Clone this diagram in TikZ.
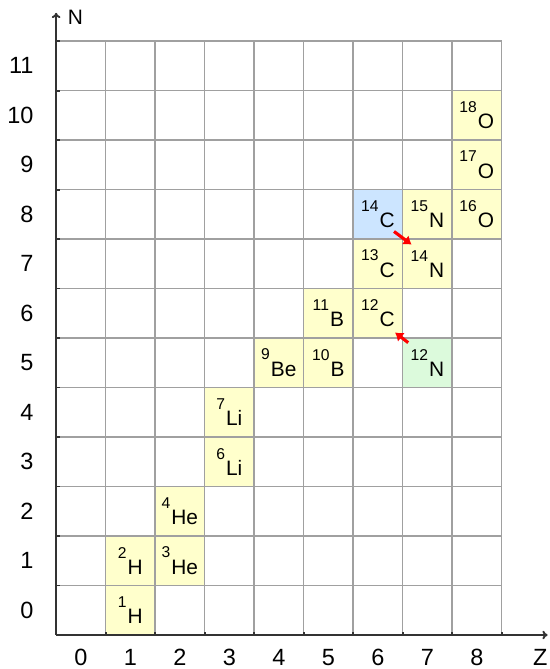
\documentclass[tikz,border=0pt]{standalone}
\usepackage{fontspec}
\setmainfont{Liberation Sans}
\usetikzlibrary{arrows.meta}
\definecolor{cellyellow}{HTML}{FFFFCC}
\definecolor{cellblue}{HTML}{CCE5FF}
\definecolor{cellgreen}{HTML}{DCFADC}
\definecolor{gridgray}{HTML}{A0A0A0}
\definecolor{axisgray}{HTML}{333333}
\newcommand{\nuc}[2]{\raisebox{9.4pt}{\fontsize{9}{9}\selectfont #1}\kern0.6pt#2}

\begin{document}
\begin{tikzpicture}[>={To[length=3pt,width=5pt]},
    cell/.style={minimum size=1cm,inner sep=0pt,font=\fontsize{12}{12}\selectfont},
    stable/.style={cell,fill=cellyellow},
    gridline/.style={draw=gridgray,line width=0.9pt},
    axis/.style={draw=axisgray,line width=1.1pt},
    ticklabel/.style={font=\fontsize{13.5}{13.5}\selectfont,inner sep=0pt},
    decay/.style={draw=red,line width=1.8pt,-{Latex[length=4.5pt,width=6.5pt]}}]
    \fill[white] (-1.134,-0.687) rectangle (9.96,12.83);
    \useasboundingbox (-1.134,-0.687) rectangle (9.96,12.83);
    % isotope cells
    \node[stable] (H1) at (1.5,0.5) {\nuc{1}{H}};
    \node[stable] (H2) at (1.5,1.5) {\nuc{2}{H}};
    \node[stable] (He3) at (2.5,1.5) {\nuc{3}{He}};
    \node[stable] (He4) at (2.5,2.5) {\nuc{4}{He}};
    \node[stable] (Li6) at (3.5,3.5) {\nuc{6}{Li}};
    \node[stable] (Li7) at (3.5,4.5) {\nuc{7}{Li}};
    \node[stable] (Be9) at (4.5,5.5) {\nuc{9}{Be}};
    \node[stable] (B10) at (5.5,5.5) {\nuc{10}{B}};
    \node[stable] (B11) at (5.5,6.5) {\nuc{11}{B}};
    \node[stable] (C12) at (6.5,6.5) {\nuc{12}{C}};
    \node[stable] (C13) at (6.5,7.5) {\nuc{13}{C}};
    \node[cell,fill=cellblue] (C14) at (6.5,8.5) {\nuc{14}{C}};
    \node[cell,fill=cellgreen] (N12) at (7.5,5.5) {\nuc{12}{N}};
    \node[stable] (N14) at (7.5,7.5) {\nuc{14}{N}};
    \node[stable] (N15) at (7.5,8.5) {\nuc{15}{N}};
    \node[stable] (O16) at (8.5,8.5) {\nuc{16}{O}};
    \node[stable] (O17) at (8.5,9.5) {\nuc{17}{O}};
    \node[stable] (O18) at (8.5,10.5) {\nuc{18}{O}};
    % grid and axes
    \draw[gridline] (0,0) grid (9,12);
    \draw[axis,->] (0,0) -- (9.93,0);
    \draw[axis,->] (0,0) -- (0,12.57);
    \foreach \z in {0,...,8} {
        \node[ticklabel] (z\z) at (\z+0.5,-0.45) {\z};
        \draw[axis] (\z+1,0) -- (\z+1,0.07);
    }
    \foreach \n in {0,...,11} {
        \node[ticklabel,anchor=east] (n\n) at (-0.45,\n+0.5) {\n};
        \draw[axis] (0,\n+1) -- (0.07,\n+1);
    }
    \node[ticklabel] (zlabel) at (9.78,-0.45) {Z};
    \node[font=\fontsize{12}{12}\selectfont,inner sep=0pt] (nlabel) at (0.39,12.48) {N};
    % decays
    \draw[decay] ([shift={(-0.18,0.16)}]C14.south east) -- ([shift={(0.19,-0.12)}]N14.north west);
    \draw[decay] ([shift={(0.12,-0.10)}]N12.north west) -- ([shift={(-0.16,0.12)}]C12.south east);
\end{tikzpicture}
\end{document}
